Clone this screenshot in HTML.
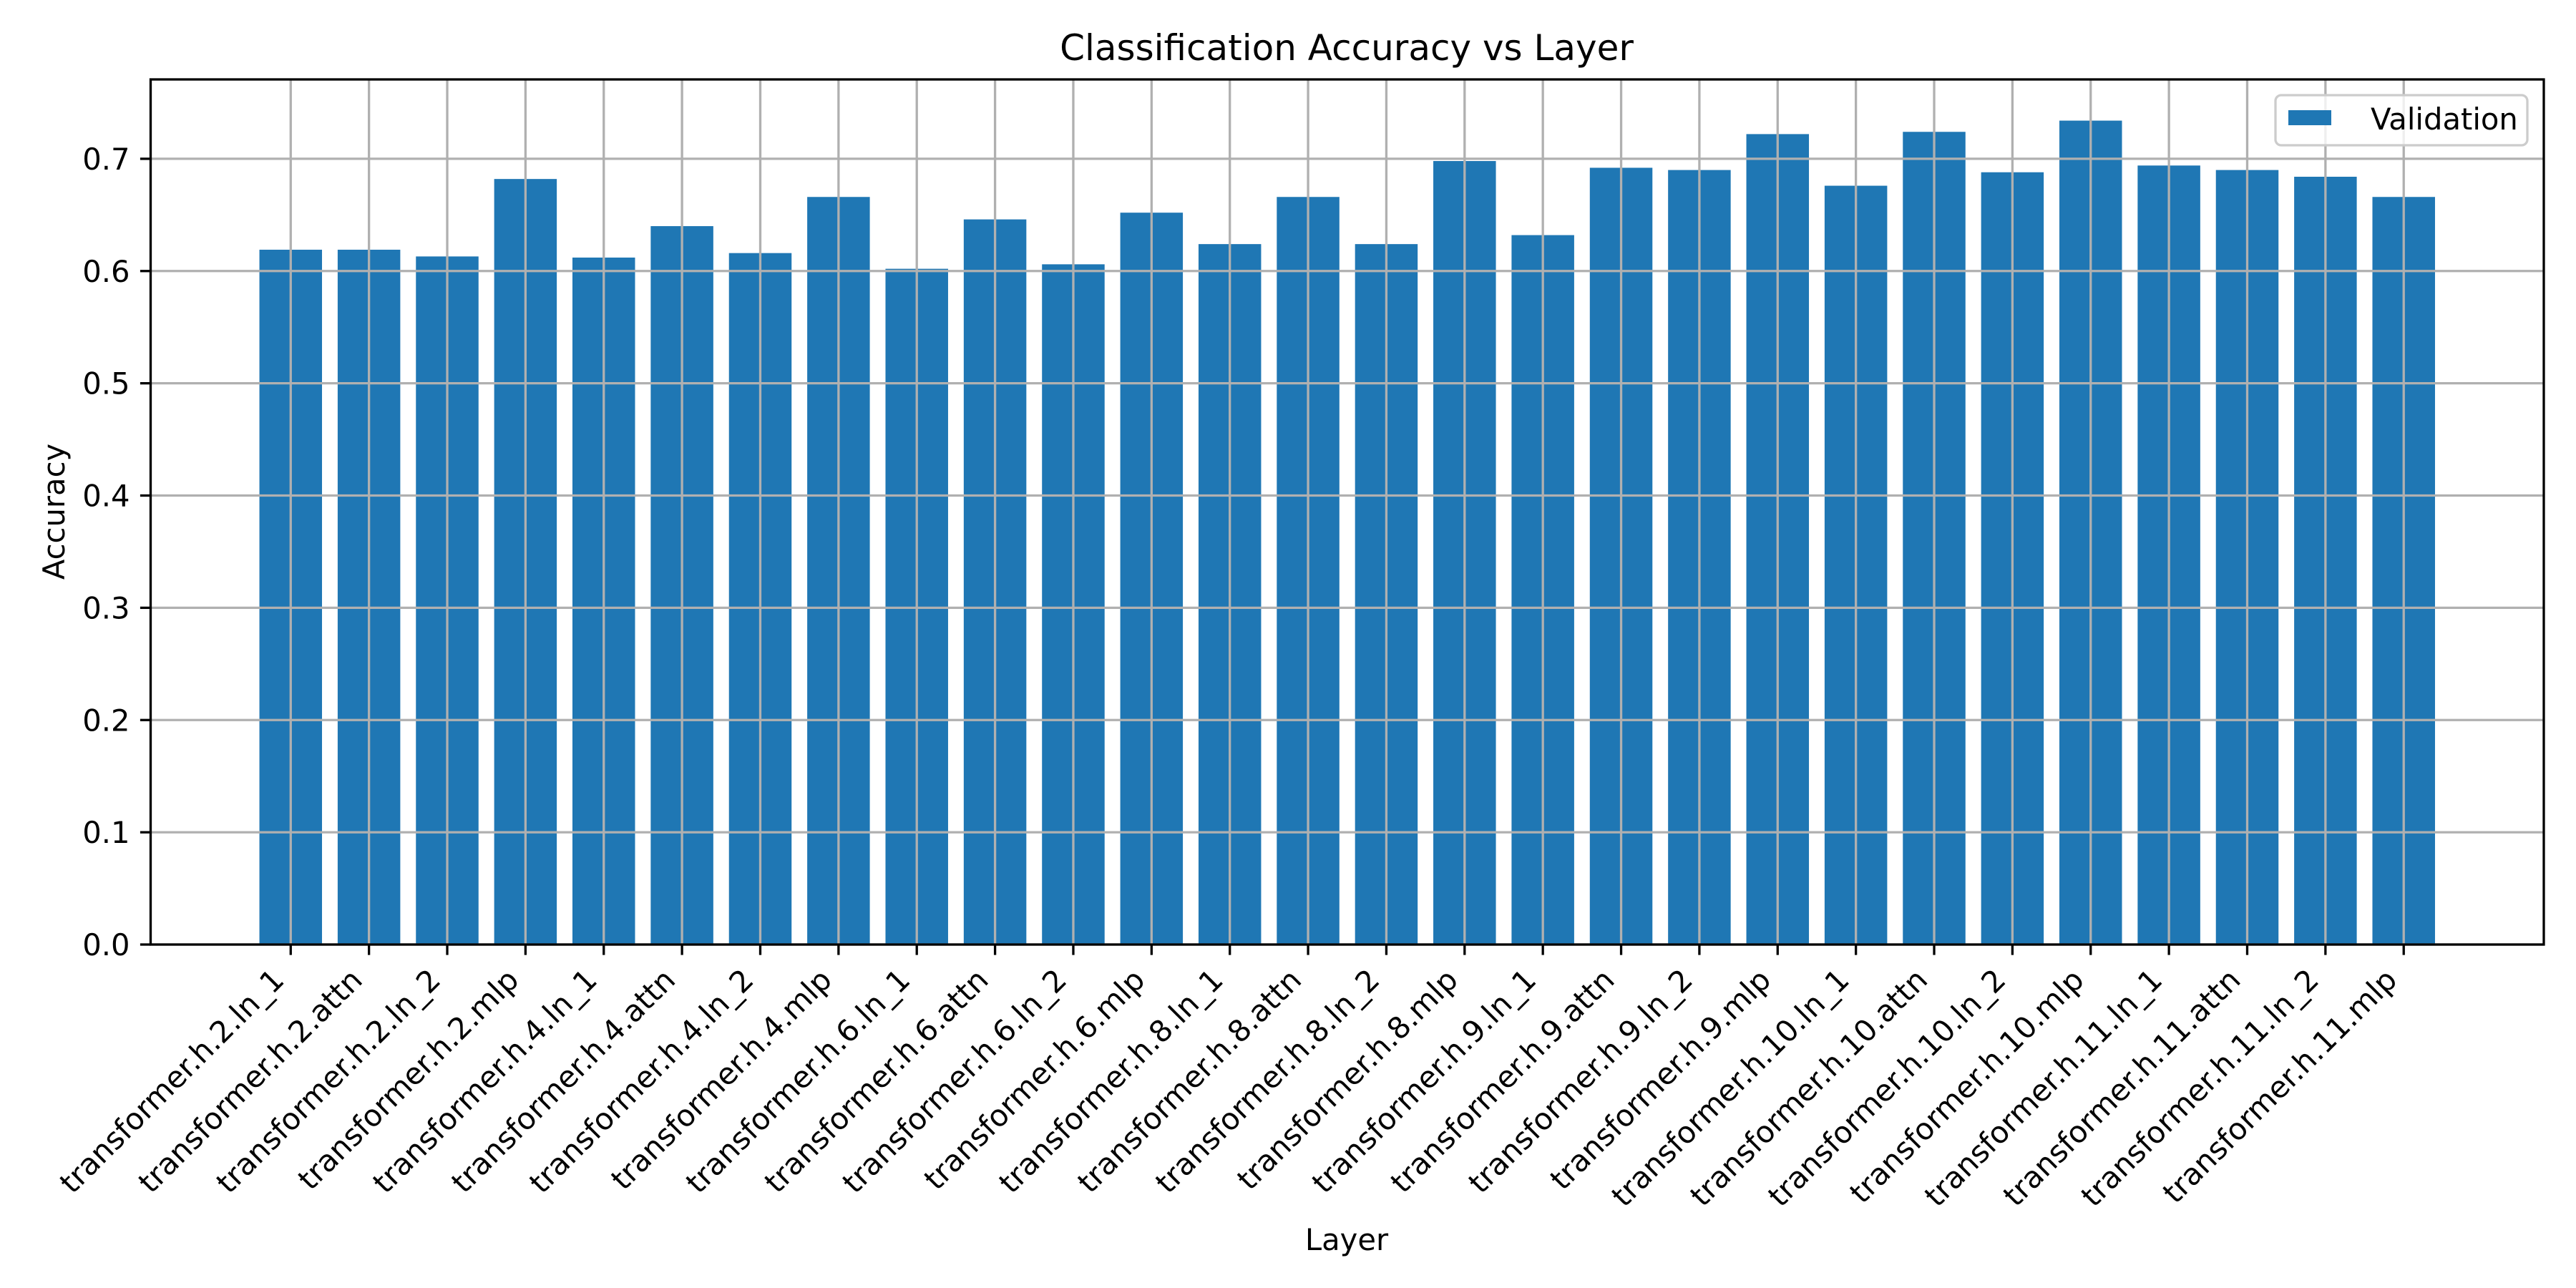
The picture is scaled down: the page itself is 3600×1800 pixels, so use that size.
<!DOCTYPE html>
<html><head><meta charset="utf-8"><style>
html,body{margin:0;padding:0;background:#fff;}
svg{display:block;font-family:"DejaVu Sans","Liberation Sans",sans-serif;}
</style></head><body>
<svg id="chart" width="3600" height="1800" viewBox="0 0 3600 1800" xmlns="http://www.w3.org/2000/svg">
<rect x="0" y="0" width="3600" height="1800" fill="#fff"/>
<text x="1882" y="84" font-size="50" text-anchor="middle">Classification Accuracy vs Layer</text>
<text x="0" y="0" font-size="41.7" text-anchor="middle" transform="translate(90,715) rotate(-90)">Accuracy</text>
<text x="1882" y="1747" font-size="41.7" text-anchor="middle">Layer</text>
<g id="bars"></g>
<g id="grid"></g>
<g id="axes"></g>
<g id="legend">
<rect x="3180" y="133" width="352" height="70" rx="8" fill="#fff" fill-opacity="0.8" stroke="#cccccc" stroke-width="3.3"/>
<rect x="3198" y="154" width="60" height="21" fill="#1f77b4"/>
<text x="3313" y="181" font-size="41.7">Validation</text>
</g>
</svg>
<script>
const categories = ["transformer.h.2.ln_1","transformer.h.2.attn","transformer.h.2.ln_2","transformer.h.2.mlp","transformer.h.4.ln_1","transformer.h.4.attn","transformer.h.4.ln_2","transformer.h.4.mlp","transformer.h.6.ln_1","transformer.h.6.attn","transformer.h.6.ln_2","transformer.h.6.mlp","transformer.h.8.ln_1","transformer.h.8.attn","transformer.h.8.ln_2","transformer.h.8.mlp","transformer.h.9.ln_1","transformer.h.9.attn","transformer.h.9.ln_2","transformer.h.9.mlp","transformer.h.10.ln_1","transformer.h.10.attn","transformer.h.10.ln_2","transformer.h.10.mlp","transformer.h.11.ln_1","transformer.h.11.attn","transformer.h.11.ln_2","transformer.h.11.mlp"];
const validation = [0.619,0.619,0.613,0.682,0.612,0.640,0.616,0.666,0.602,0.646,0.606,0.652,0.624,0.666,0.624,0.698,0.632,0.692,0.690,0.722,0.676,0.724,0.688,0.734,0.694,0.690,0.684,0.666];
const yTicks = [0.0,0.1,0.2,0.3,0.4,0.5,0.6,0.7];
const yTickLabels = ["0.0","0.1","0.2","0.3","0.4","0.5","0.6","0.7"];

const NS = "http://www.w3.org/2000/svg";
const L = 210.5, R = 3555, T = 111, B = 1320;
const n = categories.length;
const xMin = -0.4 - 0.05*(n-0.2), xMax = (n-1)+0.4 + 0.05*(n-0.2);
const yMax = Math.max(...validation)*1.05;
function xs(v){ return L + (v - xMin)/(xMax - xMin)*(R - L); }
function ys(v){ return B - v/yMax*(B - T); }
function mk(tag, attrs, parent){ const e=document.createElementNS(NS,tag); for(const k in attrs) e.setAttribute(k,attrs[k]); parent.appendChild(e); return e; }

const gBars = document.getElementById('bars');
const gGrid = document.getElementById('grid');
const gAxes = document.getElementById('axes');

validation.forEach((v,i)=>{
  const x0 = xs(i-0.4), x1 = xs(i+0.4);
  const r = mk('rect',{x:x0,y:ys(v),width:x1-x0,height:ys(0)-ys(v),fill:'#1f77b4'},gBars);
  
  
});

categories.forEach((c,i)=>{
  const x = xs(i);
  const gl = mk('line',{x1:x,x2:x,y1:T,y2:B,stroke:'#b0b0b0','stroke-width':3.3},gGrid);
  
  
  const tk = mk('line',{x1:x,x2:x,y1:B,y2:B+14.6,stroke:'#000','stroke-width':3.3},gAxes);
  
  
  const t = mk('text',{x:0,y:0,'font-size':41.7,'text-anchor':'end',transform:'translate('+(x-7)+','+(B+52)+') rotate(-45)'},gAxes);
  t.textContent = c;
  
  
});

yTicks.forEach((v,i)=>{
  const y = ys(v);
  const gl = mk('line',{x1:L,x2:R,y1:y,y2:y,stroke:'#b0b0b0','stroke-width':3.3},gGrid);
  
  
  const tk = mk('line',{x1:L-14.6,x2:L,y1:y,y2:y,stroke:'#000','stroke-width':3.3},gAxes);
  
  
  const t = mk('text',{x:L-29,y:y+15,'font-size':41.7,'text-anchor':'end'},gAxes);
  t.textContent = yTickLabels[i];
  
  
});

const frame = mk('rect',{x:L,y:T,width:R-L,height:B-T,fill:'none',stroke:'#000','stroke-width':3.3},gAxes);


</script>
</body></html>
